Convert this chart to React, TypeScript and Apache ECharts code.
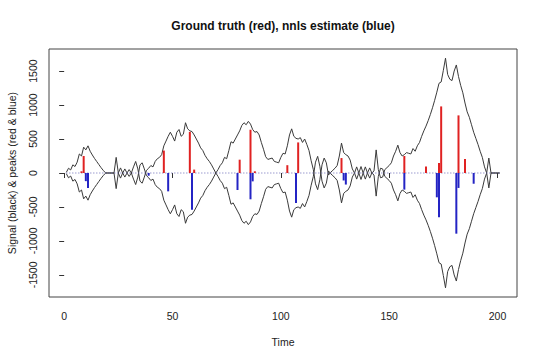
import React, { useEffect, useRef } from "react";
import * as echarts from "echarts";

// Signal (black), sampled at t = 1..201
const SIGNAL = [
  10, 70, 45, 120, 95, 160, 280, 250, 380, 340,
  400, 320, 265, 215, 170, 125, 80, 40, 5, 0,
  0, 0, 0, 230, 0, 75, 0, 60, 0, 50,
  0, 90, 170, 60, -120, -150, -60, 40, 70, 110,
  90, 170, 210, 230, 270, 400, 470, 540, 600, 540,
  470, 600, 640, 540, 570, 740, 650, 620, 610, 560,
  500, 440, 370, 330, 260, 210, 170, 120, 60, 0,
  50, 110, 150, 230, 210, 330, 460, 440, 500, 560,
  620, 700, 740, 710, 760, 720, 640, 600, 610, 560,
  450, 350, 240, 200, 210, 220, 170, 160, 150, 230,
  290, 280, 400, 560, 650, 540, 510, 500, 520, 450,
  500, 420, 330, 180, 50, -160, -245, -100, 120, 220,
  150, -30, 10, 40, 70, 110, 250, 440, 300, 270,
  250, 190, 60, 0, 90, 0, 95, 0, 90, 0,
  75, 0, 30, 340, 50, -70, -60, 50, 80, 110,
  150, 250, 320, 410, 300, 250, 270, 300, 290, 280,
  360, 320, 400, 450, 540, 620, 690, 770, 860, 960,
  1070, 1190, 1320, 1340, 1510, 1690, 1450, 1380, 1360, 1500,
  1590, 1420, 1290, 1180, 1030, 900, 820, 710, 600, 510,
  420, 320, 230, 90, 0, 220, 0, 0, 0, 0,
  0,
];
const TIME = SIGNAL.map((_, i) => i + 1);

// Ground truth peaks (red, upwards)
const TRUTH_T = [8, 9, 46, 58, 60, 81, 86, 88, 103, 108, 128, 157, 167, 173, 174, 182, 185];
const TRUTH_V = [25, 250, 330, 605, 50, 196, 637, 25, 115, 450, 220, 250, 95, 147, 980, 848, 206];

// nnls estimate peaks (blue, drawn downwards)
const EST_T = [10, 11, 39, 48, 59, 80, 86, 87, 107, 129, 130, 157, 172, 173, 181, 182, 189];
const EST_V = [-120, -220, -40, -270, -540, -250, -387, -123, -441, -110, -170, -245, -358, -652, -893, -220, -158];

const X_TICKS = [0, 50, 100, 150, 200];
const Y_TICKS = [-1500, -1000, -500, 0, 500, 1000, 1500];

const FONT = "Liberation Sans, Arial, sans-serif";

function spikeSeries(name: string, ts: number[], vs: number[], color: string) {
  return {
    name,
    type: "custom",
    data: ts.map((t, i) => [t, vs[i]]),
    encode: { x: 0, y: 1 },
    z: 5,
    renderItem: (_params: any, api: any) => {
      const t = api.value(0);
      const v = api.value(1);
      const p0 = api.coord([t, 0]);
      const p1 = api.coord([t, v]);
      return {
        type: "line",
        shape: { x1: p0[0], y1: p0[1], x2: p1[0], y2: p1[1] },
        style: { stroke: color, lineWidth: 2 },
      };
    },
  };
}

export default function App() {
  const ref = useRef<HTMLDivElement>(null);
  useEffect(() => {
    if (!ref.current) return;
    const chart = echarts.init(ref.current, undefined, { renderer: "svg" });
    const axisLabel = {
      fontFamily: FONT,
      fontSize: 10.5,
      color: "#222",
      formatter: (v: number) => String(v),
    };
    chart.setOption({
      animation: false,
      backgroundColor: "#ffffff",
      grid: {
        left: 49,
        right: 23,
        top: 49,
        bottom: 62,
        show: true,
        borderColor: "#444",
        borderWidth: 1,
        backgroundColor: "transparent",
      },
      xAxis: {
        type: "value",
        min: -7,
        max: 209,
        axisLine: { show: false },
        splitLine: { show: false },
        axisTick: { show: true, customValues: X_TICKS, length: 5, lineStyle: { color: "#333" } },
        axisLabel: { ...axisLabel, customValues: X_TICKS, margin: 13 },
      },
      yAxis: {
        type: "value",
        min: -1825,
        max: 1825,
        axisLine: { show: false },
        splitLine: { show: false },
        axisTick: { show: true, customValues: Y_TICKS, length: 5, lineStyle: { color: "#333" } },
        axisLabel: { ...axisLabel, customValues: Y_TICKS, rotate: 90, margin: 11 },
      },
      graphic: [
        {
          type: "text",
          x: 283,
          y: 26,
          style: {
            text: "Ground truth (red), nnls estimate (blue)",
            font: `bold 12px ${FONT}`,
            fill: "#111",
            textAlign: "center",
            textVerticalAlign: "middle",
          },
        },
        {
          type: "text",
          x: 283,
          y: 342,
          style: {
            text: "Time",
            font: `10.5px ${FONT}`,
            fill: "#222",
            textAlign: "center",
            textVerticalAlign: "middle",
          },
        },
        {
          type: "text",
          x: 12,
          y: 173,
          rotation: Math.PI / 2,
          style: {
            text: "Signal (black) & peaks (red & blue)",
            font: `10.5px ${FONT}`,
            fill: "#222",
            textAlign: "center",
            textVerticalAlign: "middle",
          },
        },
      ],
      series: [
        {
          name: "signal",
          type: "line",
          data: TIME.map((t, i) => [t, SIGNAL[i]]),
          symbol: "none",
          lineStyle: { color: "#3a3a3a", width: 1 },
          z: 2,
        },
        {
          name: "-signal",
          type: "line",
          data: TIME.map((t, i) => [t, -SIGNAL[i]]),
          symbol: "none",
          lineStyle: { color: "#3a3a3a", width: 1 },
          z: 2,
        },
        {
          name: "zero",
          type: "line",
          data: [
            [TIME[0], 0],
            [TIME[TIME.length - 1], 0],
          ],
          symbol: "none",
          lineStyle: { color: "#6a6ab8", width: 1, type: [1, 2] },
          z: 3,
        },
        spikeSeries("truth", TRUTH_T, TRUTH_V, "#e02222"),
        spikeSeries("estimate", EST_T, EST_V, "#2424c4"),
      ],
    });
    return () => chart.dispose();
  }, []);
  return (
    <div
      ref={ref}
      style={{ position: "absolute", left: 0, top: 0, width: 540, height: 359 }}
    />
  );
}
